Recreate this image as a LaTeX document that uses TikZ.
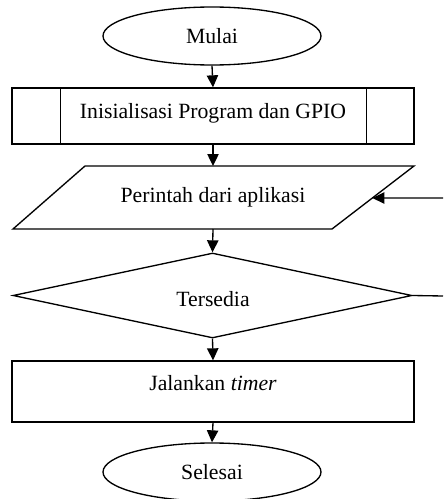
\documentclass[tikz,border=0pt]{standalone}
\usepackage{fontspec}
\setmainfont{Liberation Serif}
\usetikzlibrary{shapes.geometric,arrows.meta,calc}
\begin{document}
\begin{tikzpicture}[x=0.75pt,y=-0.75pt,
  every node/.style={font=\fontsize{16.3}{19}\selectfont},
  line/.style={draw=black,line width=1pt},
  arr/.style={line,-{Triangle[width=8.5pt,length=9pt]}},
  term/.style={ellipse,line,minimum width=163.5pt,minimum height=43.5pt,inner sep=0pt},
  procbox/.style={rectangle,line,minimum width=301.5pt,inner sep=0pt},
  decide/.style={diamond,line,minimum width=299.25pt,minimum height=63.75pt,inner sep=0pt,aspect=4.7},
  lbl/.style={inner sep=0pt}]
\useasboundingbox (0,0) rectangle (443,499);
% start
\node[term] (mulai) at (212,36) {Mulai};
% subroutine
\node[procbox,minimum height=42pt] (init) at (213,116) {};
\draw[line] ([xshift=36.75pt]init.north west) -- ([xshift=36.75pt]init.south west);
\draw[line] ([xshift=-36pt]init.north east) -- ([xshift=-36pt]init.south east);
\node[lbl] (initt) at (213,113) {Inisialisasi Program dan GPIO};
% input parallelogram
\coordinate (ptl) at (85,166);
\coordinate (ptr) at (414,166);
\coordinate (pbr) at (332,229);
\coordinate (pbl) at (13,229);
\coordinate (ptop) at (213,166);
\coordinate (pbot) at (213,229);
\coordinate (pin) at ($(ptr)!0.508!(pbr)$);
\draw[line,line join=miter] (ptl) -- (ptr) -- (pbr) -- (pbl) -- cycle;
\node[lbl] (perintah) at (213,197) {Perintah dari aplikasi};
% decision
\node[decide] (cek) at (212.5,295.5) {};
\node[lbl] (cekt) at (213,299) {Tersedia};
% process
\node[procbox,minimum height=45.75pt] (jal) at (213,391.5) {};
\node[lbl] (jalt) at (213,383) {Jalankan \textit{timer}};
% end
\node[term] (selesai) at (212,472) {Selesai};
% connectors
\coordinate (rin) at (443,198);
\coordinate (rout) at (443,296);
\draw[arr] (mulai.south) -- (init.north);
\draw[arr] (init.south) -- (ptop);
\draw[arr] (pbot) -- (cek.north);
\draw[arr] (cek.south) -- (jal.north);
\draw[arr] (jal.south) -- (selesai.north);
\draw[line] (cek.east) -- (rout);
\draw[arr] (rin) -- (pin);
\end{tikzpicture}
\end{document}
